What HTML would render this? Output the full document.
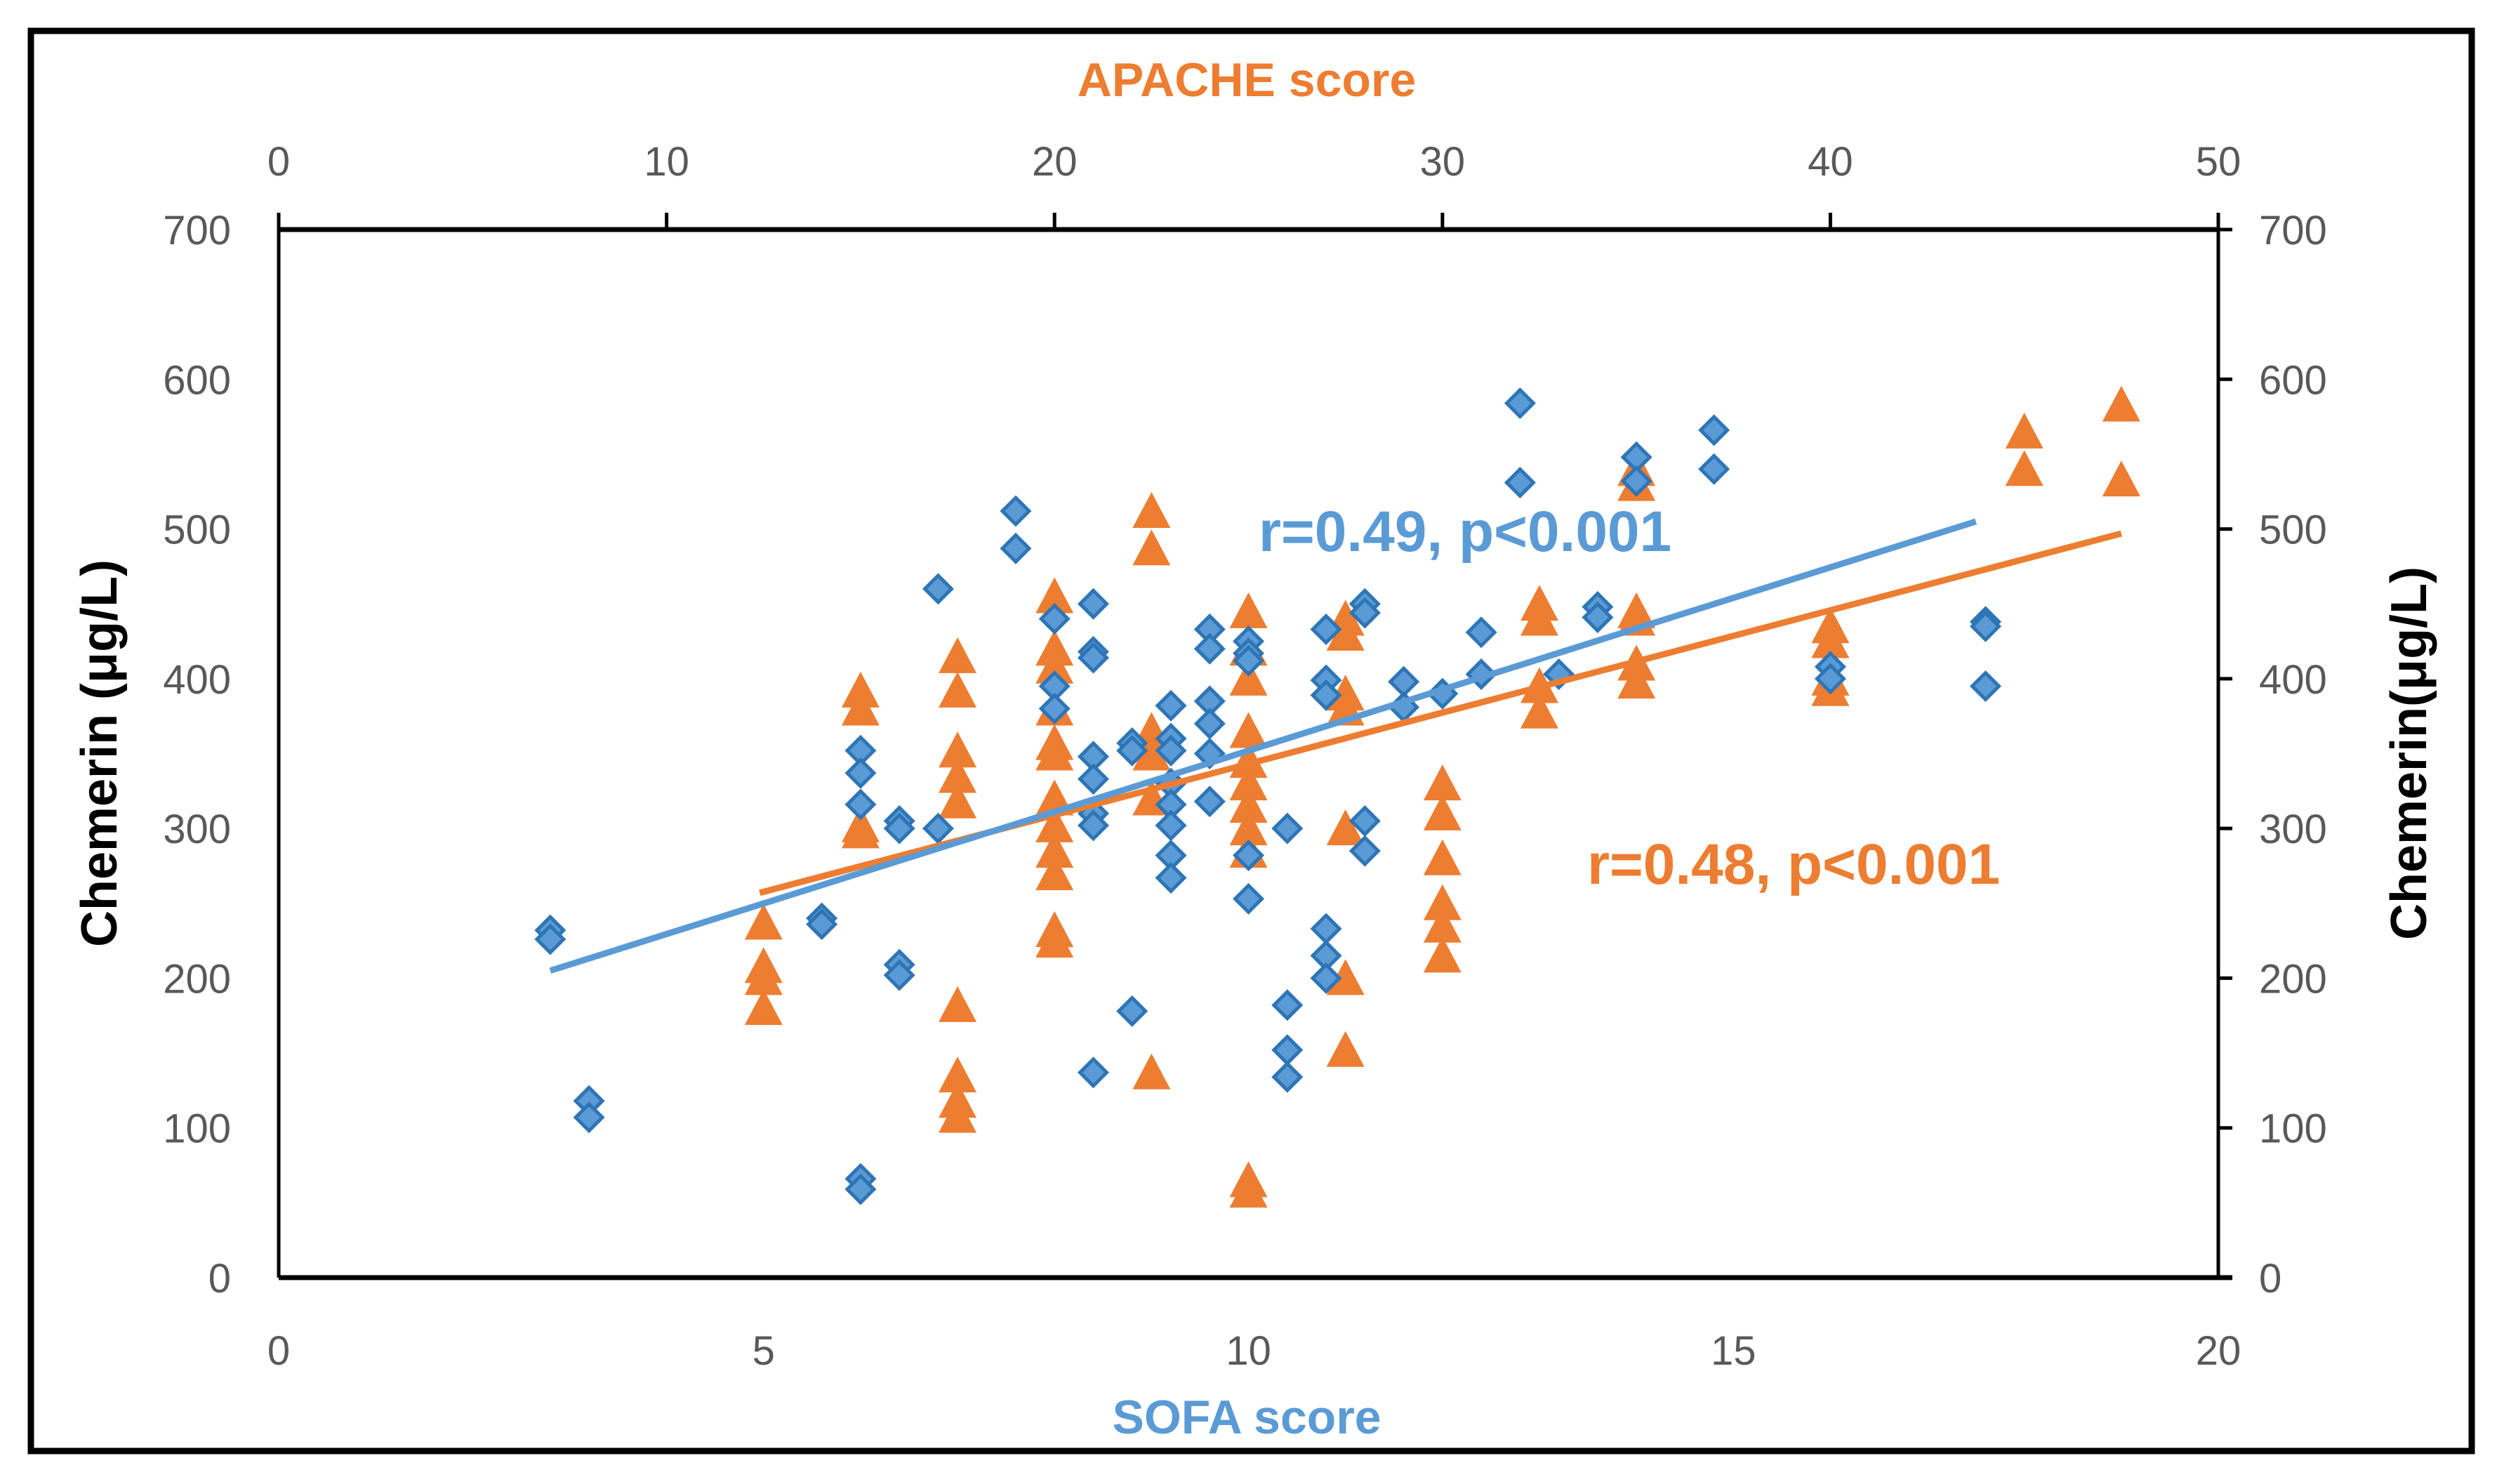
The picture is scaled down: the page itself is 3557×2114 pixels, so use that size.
<!DOCTYPE html>
<html><head><meta charset="utf-8"><style>
html,body{margin:0;padding:0;background:#fff}
svg{display:block}
text{font-family:"Liberation Sans",sans-serif}
</style></head><body>
<svg id="chart" width="3557" height="2114" viewBox="0 0 3557 2114" xmlns="http://www.w3.org/2000/svg">
<rect x="44" y="44" width="3477" height="2023" fill="#fff" stroke="#000" stroke-width="9"/>
<g id="axes"></g>
<g id="marks"></g>
<text x="1776" y="137" text-anchor="middle" font-size="68" font-weight="bold" fill="#ED7D31">APACHE score</text>
<text x="1776" y="2042" text-anchor="middle" font-size="68" font-weight="bold" fill="#5B9BD5">SOFA score</text>
<text transform="translate(166,1073) rotate(-90)" text-anchor="middle" font-size="72" font-weight="bold" fill="#000">Chemerin (μg/L)</text>
<text transform="translate(3456,1073) rotate(-90)" text-anchor="middle" font-size="72" font-weight="bold" fill="#000">Chemerin(μg/L)</text>
<text x="1793" y="785" font-size="82" font-weight="bold" fill="#5B9BD5">r=0.49, p&lt;0.001</text>
<text x="2261" y="1259" font-size="82" font-weight="bold" fill="#ED7D31">r=0.48, p&lt;0.001</text>
</svg>
<script>
const yTicks=[0,100,200,300,400,500,600,700];
const sofaTicks=[0,5,10,15,20];
const apacheTicks=[0,10,20,30,40,50];
const sofaX=[2.8,2.8,3.2,3.2,5.6,5.6,6,6,6,6,6,6.4,6.4,6.4,6.4,6.8,6.8,7.6,7.6,8,8,8,8.4,8.4,8.4,8.4,8.4,8.4,8.4,8.4,8.8,8.8,8.8,9.2,9.2,9.2,9.2,9.2,9.2,9.2,9.2,9.6,9.6,9.6,9.6,9.6,9.6,10,10,10,10,10,10.4,10.4,10.4,10.4,10.8,10.8,10.8,10.8,10.8,10.8,11.2,11.2,11.2,11.2,11.6,11.6,12,12.4,12.4,12.8,12.8,13.2,13.6,13.6,14,14,14.8,14.8,16,16,17.6,17.6,17.6];
const sofaY=[232,226,118,107,240,236,352,337,316,66,59,305,300,209,202,300,460,512,487,440,395,380,450,418,414,348,333,310,302,137,357,352,178,382,360,352,330,316,302,282,267,433,420,385,370,350,318,425,417,412,282,253,300,182,152,134,433,399,389,233,215,200,450,444,305,285,398,381,390,431,403,584,531,403,448,441,548,532,566,540,408,400,438,435,395];
const apacheX=[12.5,12.5,12.5,12.5,15,15,15,15,17.5,17.5,17.5,17.5,17.5,17.5,17.5,17.5,17.5,20,20,20,20,20,20,20,20,20,20,20,20,22.5,22.5,22.5,22.5,22.5,22.5,25,25,25,25,25,25,25,25,25,25,25,27.5,27.5,27.5,27.5,27.5,27.5,27.5,30,30,30,30,30,30,32.5,32.5,32.5,32.5,35,35,35,35,35,35,40,40,40,40,45,45,47.5,47.5];
const apacheY=[237,208,200,180,392,380,302,298,415,392,352,335,318,182,135,118,108,455,420,408,380,357,350,320,302,285,270,232,225,512,487,365,350,320,137,445,420,400,365,345,330,315,300,285,65,58,440,430,390,380,300,200,152,330,310,280,250,235,215,450,440,395,378,540,530,445,440,410,398,435,425,400,393,565,540,583,533];
const sofaFit=[[2.8,205],[17.5,505]];
const apacheFit=[[12.4,257],[47.5,497]];

const NS="http://www.w3.org/2000/svg";
const L=397,R=3160,T=327,B=1820;
const sx=v=>L+(v-0)/(20-0)*(R-L);
const ax=v=>L+(v-0)/(50-0)*(R-L);
const sy=v=>B-(v-0)/(700-0)*(B-T);
function mk(tag,attrs,parent,txt){const e=document.createElementNS(NS,tag);for(const k in attrs)e.setAttribute(k,attrs[k]);if(txt!==undefined)e.textContent=txt;parent.appendChild(e);return e;}
const axes=document.getElementById('axes'),marks=document.getElementById('marks');
const sw=7;
let e;
e=mk('line',{x1:L,y1:B,x2:R+20,y2:B,stroke:'#000','stroke-width':sw},axes);


e=mk('line',{x1:L-0,y1:T,x2:R,y2:T,stroke:'#000','stroke-width':sw},axes);


e=mk('line',{x1:L,y1:T-24,x2:L,y2:B,stroke:'#000','stroke-width':5},axes);


e=mk('line',{x1:R,y1:T,x2:R,y2:B,stroke:'#000','stroke-width':5},axes);


yTicks.forEach(v=>{
  const y=sy(v);
  e=mk('line',{x1:R,y1:y,x2:R+20,y2:y,stroke:'#000','stroke-width':5},axes);
  
  
  e=mk('text',{x:329,y:y+21,'text-anchor':'end','font-size':58,fill:'#595959'},axes,String(v));
  
  
  e=mk('text',{x:3218,y:y+21,'text-anchor':'start','font-size':58,fill:'#595959'},axes,String(v));
  
  
});
sofaTicks.forEach(v=>{
  e=mk('text',{x:sx(v),y:1944,'text-anchor':'middle','font-size':58,fill:'#595959'},axes,String(v));
  
  
});
apacheTicks.forEach(v=>{
  e=mk('line',{x1:ax(v),y1:T-24,x2:ax(v),y2:T,stroke:'#000','stroke-width':5},axes);
  
  
  e=mk('text',{x:ax(v),y:250,'text-anchor':'middle','font-size':58,fill:'#595959'},axes,String(v));
  
  
});
apacheX.forEach((v,i)=>{
  const x=ax(v),y=sy(apacheY[i]);
  e=mk('polygon',{points:`${x},${y-27} ${x+27},${y+24} ${x-27},${y+24}`,fill:'#ED7D31'},marks);
  
  
});
sofaX.forEach((v,i)=>{
  const x=sx(v),y=sy(sofaY[i]);
  e=mk('polygon',{points:`${x},${y-19} ${x+19},${y} ${x},${y+19} ${x-19},${y}`,fill:'#5B9BD5',stroke:'#2E75B6','stroke-width':5},marks);
  
  
});
e=mk('line',{x1:ax(apacheFit[0][0]),y1:sy(apacheFit[0][1]),x2:ax(apacheFit[1][0]),y2:sy(apacheFit[1][1]),stroke:'#ED7D31','stroke-width':9},marks);


e=mk('line',{x1:sx(sofaFit[0][0]),y1:sy(sofaFit[0][1]),x2:sx(sofaFit[1][0]),y2:sy(sofaFit[1][1]),stroke:'#5B9BD5','stroke-width':9},marks);


</script>
</body></html>
